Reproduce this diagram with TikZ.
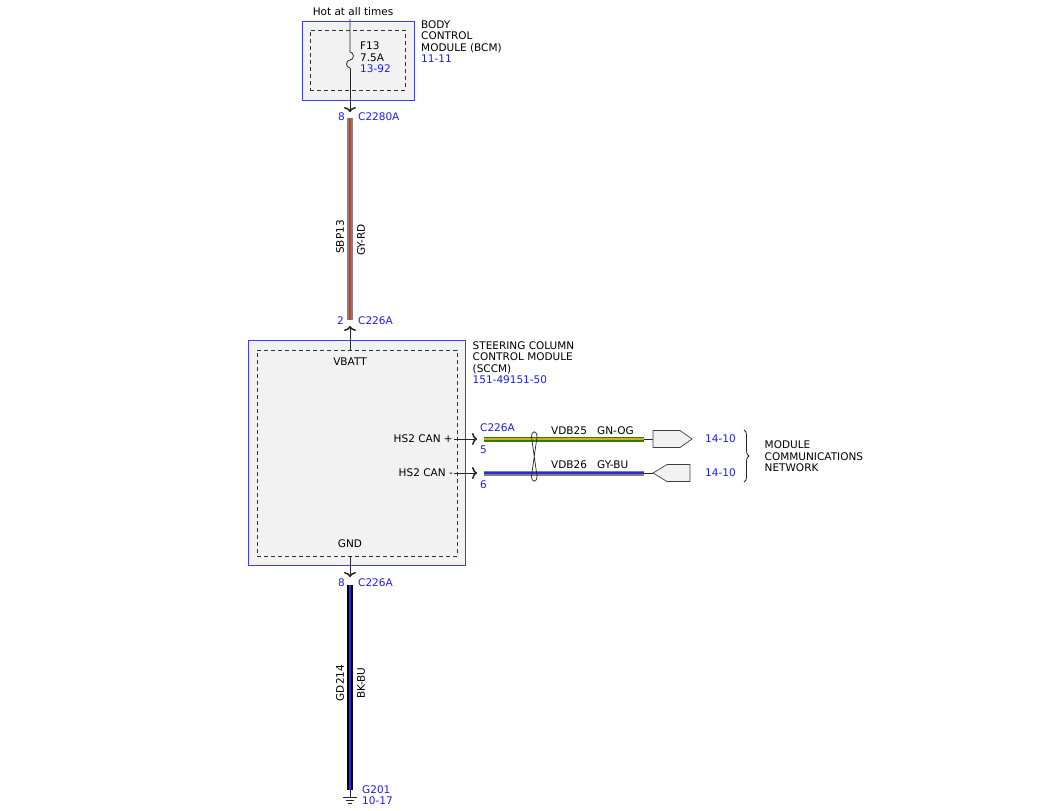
\documentclass[tikz,border=0pt]{standalone}
\usepackage{fontspec}
\setmainfont{DejaVu Sans}
\usepackage{xcolor}
\definecolor{Col1}{RGB}{60,60,255}
\definecolor{Col2}{RGB}{30,30,235}
\definecolor{ColFill}{RGB}{242,242,242}
\definecolor{WGray}{RGB}{128,128,128}
\definecolor{WRed}{RGB}{205,60,45}
\definecolor{WGreen}{RGB}{40,125,20}
\definecolor{WOrange}{RGB}{225,170,20}
\definecolor{WBlue}{RGB}{40,40,240}
\usepackage{tikz}
\usetikzlibrary{arrows.meta}
\usetikzlibrary{decorations.pathreplacing}
\tikzstyle{Module}=[draw=Col1,fill=ColFill,line width=1pt,inner sep=0pt,
outer sep=0pt]
\tikzstyle{Inner}=[draw=black!80,dash pattern=on 4pt off 3pt,line width=0.8pt,
inner sep=0pt,outer sep=0pt]
\tikzstyle{Txt}=[font=\fontsize{10.5}{11.4}\selectfont,inner sep=0pt]
\tikzstyle{Ref}=[Txt,text=Col2]
\tikzstyle{Edge}=[draw=black!85,line width=0.8pt]
\tikzstyle{Pin}=[Edge,-{Computer Modern Rightarrow[length=5pt,width=12pt,
line width=1.5pt]}]
\tikzstyle{Conn}=[draw=black!75,fill=ColFill,line width=0.7pt]
\tikzstyle{Wire}=[line width=6pt]
\tikzstyle{Stripe}=[line width=1.6pt]
\tikzstyle{WireS}=[line width=5pt]
\tikzstyle{StripeS}=[line width=1.4pt]

\begin{document}
\begin{tikzpicture}[x=1pt,y=-1pt]
    \useasboundingbox[fill=white](0,0)rectangle(1050,811);
    % body control module
    \node[Module,minimum width=112,minimum height=79](bcm)at(358,60.5){};
    \node[Inner,minimum width=95,minimum height=60](bcmi)at(357.5,60){};
    \node[Txt](hot)at(353,12){Hot at all times};
    \node[Txt,anchor=north west,align=left](bcmt)at(421,20.5)
        {BODY\\CONTROL\\MODULE (BCM)\\{\color{Col2}11-11}};
    \node[Txt,anchor=north west,align=left](f13)at(360,42)
        {F13\\7.5A\\{\color{Col2}13-92}};
    \coordinate(h0)at(350,19);
    \coordinate(f0)at(350,52);
    \coordinate(f1)at(350,68);
    \coordinate(p1)at(350,112);
    \draw[Edge](h0)--(f0).. controls (354.5,52) and (354.5,60) ..(350,60)
        .. controls (345.5,60) and (345.5,68) ..(f1);
    \draw[Pin](f1)--(p1);
    \node[Ref,anchor=east](n8a)at(345,117){8};
    \node[Ref,anchor=west](c2280)at(358,117){C2280A};
    % SBP13
    \coordinate(w1a)at(350,118);
    \coordinate(w1b)at(350,320);
    \draw[Wire,WGray](w1a)--(w1b);
    \draw[Stripe,WRed](w1a)--(w1b);
    \node[Txt,rotate=90](sbp)at(340,237){SBP13};
    \node[Txt,rotate=90](gyrd)at(361,240){GY-RD};
    \node[Ref,anchor=east](n2)at(344,321){2};
    \node[Ref,anchor=west](c226a)at(358,321){C226A};
    % steering column control module
    \node[Module,minimum width=217,minimum height=225](sccm)at(356.5,452.5){};
    \node[Inner,minimum width=200,minimum height=206](sccmi)at(357,453){};
    \node[Txt,anchor=north west,align=left](sccmt)at(472.5,341.5)
        {STEERING COLUMN\\CONTROL MODULE\\(SCCM)\\{\color{Col2}151-49151-50}};
    \node[Txt](vbatt)at(350,362){VBATT};
    \node[Txt](gnd)at(350,544){GND};
    \coordinate(v0)at(350,350);
    \coordinate(p2)at(350,326);
    \draw[Pin](v0)--(p2);
    % HS2 CAN
    \node[Txt,anchor=east](canp)at(453,439){HS2 CAN +};
    \node[Txt,anchor=east](canm)at(453,473){HS2 CAN -};
    \coordinate(k1)at(454,439);
    \coordinate(k2)at(454,473);
    \coordinate(p3)at(477,439);
    \coordinate(p4)at(477,473);
    \draw[Pin](k1)--(p3);
    \draw[Pin](k2)--(p4);
    \node[Ref,anchor=west](c226b)at(480,428){C226A};
    \node[Ref,anchor=west](n5)at(480,450){5};
    \node[Ref,anchor=west](n6)at(480,485){6};
    \coordinate(w2a)at(484,439);
    \coordinate(w2b)at(644,439);
    \coordinate(w3a)at(484,473);
    \coordinate(w3b)at(644,473);
    \draw[WireS,WGreen](w2a)--(w2b);
    \draw[StripeS,WOrange](w2a)--(w2b);
    \draw[WireS,WGray](w3a)--(w3b);
    \draw[StripeS,WBlue](w3a)--(w3b);
    \node[Txt,anchor=west](vdb25)at(551,431){VDB25};
    \node[Txt,anchor=west](gnog)at(597,431){GN-OG};
    \node[Txt,anchor=west](vdb26)at(551,465){VDB26};
    \node[Txt,anchor=west](gybu)at(597,465){GY-BU};
    % twist
    \draw[Edge,line width=0.7pt](531.5,437).. controls (531.5,430) and (537,430) ..
        (537,437)--(531.5,476).. controls (531.5,483) and (537,483) ..(537,476)--cycle;
    % connectors
    \coordinate(s1)at(653,439);
    \coordinate(s2)at(653,473);
    \draw[Edge,line width=0.7pt](w2b)--(s1);
    \draw[Edge,line width=0.7pt](w3b)--(s2);
    \draw[Conn](653,430.5)--(680,430.5)--(692,439)--(680,447.5)--(653,447.5)--cycle;
    \draw[Conn](653,473)--(667,464.5)--(690,464.5)--(690,481.5)--(667,481.5)--cycle;
    \node[Ref,anchor=west](r1)at(705,439){14-10};
    \node[Ref,anchor=west](r2)at(705,473){14-10};
    \coordinate(b1)at(744,430);
    \coordinate(b2)at(744,482);
    \draw[Edge,decorate,decoration={brace,amplitude=5pt}](b1)--(b2);
    \node[Txt,anchor=north west,align=left](mcn)at(764.5,441)
        {MODULE\\COMMUNICATIONS\\NETWORK};
    % GD214
    \coordinate(g0)at(350,556);
    \coordinate(p5)at(350,577);
    \draw[Pin](g0)--(p5);
    \node[Ref,anchor=east](n8b)at(345,583){8};
    \node[Ref,anchor=west](c226c)at(358,583){C226A};
    \coordinate(w4a)at(350,585);
    \coordinate(w4b)at(350,790);
    \draw[Wire,black](w4a)--(w4b);
    \draw[Stripe,WBlue](w4a)--(w4b);
    \node[Txt,rotate=90](gd)at(340,683){GD214};
    \node[Txt,rotate=90](bkbu)at(361,683){BK-BU};
    % ground
    \coordinate(e0)at(350,797.5);
    \draw[Edge,line width=0.7pt](w4b)--(e0);
    \draw[Edge,line width=0.7pt](343,797.5)--(357,797.5)(346,800.5)--(354,800.5)
        (348,803.5)--(352,803.5);
    \node[Ref,anchor=west](g201)at(362,790){G201};
    \node[Ref,anchor=west](g1017)at(362,801){10-17};
\end{tikzpicture}
\end{document}
